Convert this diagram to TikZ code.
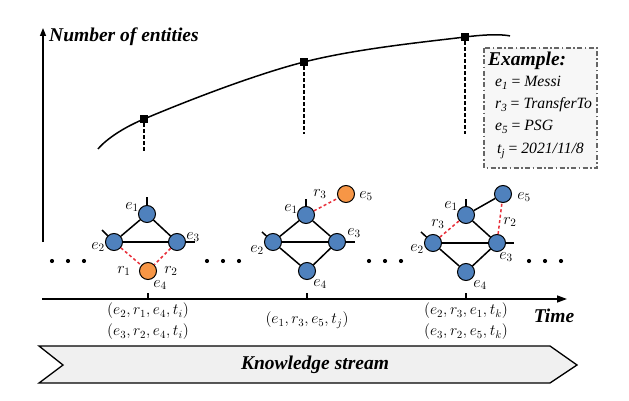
\documentclass[tikz,border=0pt]{standalone}
\usepackage{graphicx}
\usepackage{fontspec}
\setmainfont{Liberation Serif}
\usetikzlibrary{arrows.meta}
\definecolor{entblue}{HTML}{4F81BD}
\definecolor{entorange}{HTML}{F79646}
\definecolor{reddash}{HTML}{E8303A}
\newcommand{\sbs}[1]{\raisebox{-0.35ex}{\fontsize{11}{11}\selectfont #1}}
\newcommand{\lb}[1]{\scalebox{1.12}{$#1$}}
\newcommand{\tp}[1]{\scalebox{1.09}{$#1$}}
\begin{document}
\begin{tikzpicture}[x=1pt,y=-1pt,
  ent/.style={circle,draw=black,line width=1pt,fill=entblue,minimum size=17pt,inner sep=0pt},
  newent/.style={ent,fill=entorange},
  edge/.style={line width=1.5pt,black},
  newedge/.style={line width=1.5pt,reddash,dash pattern=on 3pt off 2.5pt},
  lab/.style={font=\fontsize{14.4}{14.4}\selectfont,inner sep=0pt},
  tup/.style={font=\fontsize{14.4}{14.4}\selectfont,inner sep=0pt},
  big/.style={font=\fontsize{19.5}{19.5}\selectfont\bfseries\itshape,inner sep=0pt},
  mk/.style={rectangle,fill=black,minimum size=8.5pt,inner sep=0pt},
  vdash/.style={line width=1.4pt,dash pattern=on 3.5pt off 2.5pt},
  exl/.style={font=\fontsize{15.7}{15.7}\selectfont\itshape,inner sep=0pt,anchor=west}
]
\useasboundingbox (0,0) rectangle (629,401);

% axes
\coordinate (yb) at (43,242);
\coordinate (yt) at (43,28);
\coordinate (xl) at (42,299);
\coordinate (xr) at (567,299);
\draw[line width=1.4pt,-{Triangle[length=8pt,width=6pt]}] (yb) -- (yt);
\draw[line width=1.4pt,-{Triangle[length=10pt,width=7pt]}] (xl) -- (xr);
\node[big,anchor=west] (ylab) at (49,37) {Number of entities};
\node[big] (xlab) at (554,316) {Time};

% ticks
\foreach \x/\n in {148/t1,307/t2,466/t3}{
  \coordinate (\n a) at (\x,299);
  \coordinate (\n b) at (\x,293);
  \draw[line width=1.4pt] (\n a) -- (\n b);
}

% growth curve
\draw[line width=1.5pt] plot[smooth,tension=0.6] coordinates {(98,149) (144,119) (304,62) (465,37) (510,36)};
\node[mk] (m1) at (144,119) {};
\node[mk] (m2) at (304,62) {};
\node[mk] (m3) at (465,37) {};
\coordinate (d1) at (144,153);
\coordinate (d2) at (304,134);
\coordinate (d3) at (465,134);
\draw[vdash] (m1) -- (d1);
\draw[vdash] (m2) -- (d2);
\draw[vdash] (m3) -- (d3);

% example box
\draw[gray!80!black,line width=1.2pt,fill=gray!6,dash pattern=on 5pt off 2.5pt on 1.5pt off 2.5pt] (484,48) rectangle (597,168);
\node[big,anchor=west] (ex) at (488,61) {Example:};
\node[exl] (ex1) at (495,83) {e\sbs{1} {\upshape =} Messi};
\node[exl] (ex2) at (495,105) {r\sbs{3} {\upshape =} TransferTo};
\node[exl] (ex3) at (495,127) {e\sbs{5} {\upshape =} PSG};
\node[exl] (ex4) at (497,151) {t\sbs{j} {\upshape =} 2021/11/8};

% dots
\foreach \x [count=\i] in {52,68,84,207,223,239,369,385,401,529,545,561}{
  \fill (\x,261) circle (2.1pt);
}

% graph 1
\node[ent] (a1) at (147,214) {};
\node[ent] (a2) at (114,242) {};
\node[ent] (a3) at (177,242) {};
\node[newent] (a4) at (148,271) {};
\coordinate (a1s) at (147,197);
\coordinate (a2s) at (102,230);
\coordinate (a3s) at (195,242);
\draw[edge] (a1) -- (a2);
\draw[edge] (a1) -- (a3);
\draw[edge] (a2) -- (a3);
\draw[edge] (a1) -- (a1s);
\draw[edge] (a2) -- (a2s);
\draw[edge] (a3) -- (a3s);
\draw[newedge] (a2) -- (a4);
\draw[newedge] (a3) -- (a4);
\node[lab] at (132,207) {\lb{e_1}};
\node[lab] at (98,247) {\lb{e_2}};
\node[lab] at (193,237) {\lb{e_3}};
\node[lab] at (160,285) {\lb{e_4}};
\node[lab] at (124,271) {\lb{r_1}};
\node[lab] at (171,271) {\lb{r_2}};

% graph 2
\node[ent] (b1) at (306,215) {};
\node[ent] (b2) at (273,242) {};
\node[ent] (b3) at (337,242) {};
\node[ent] (b4) at (307,271) {};
\node[newent] (b5) at (346,194) {};
\coordinate (b1s) at (306,199);
\coordinate (b2s) at (262,232);
\coordinate (b3s) at (355,242);
\draw[edge] (b1) -- (b2);
\draw[edge] (b1) -- (b3);
\draw[edge] (b2) -- (b3);
\draw[edge] (b2) -- (b4);
\draw[edge] (b3) -- (b4);
\draw[edge] (b1) -- (b1s);
\draw[edge] (b2) -- (b2s);
\draw[edge] (b3) -- (b3s);
\draw[newedge] (b1) -- (b5);
\node[lab] at (291,209) {\lb{e_1}};
\node[lab] at (257,250) {\lb{e_2}};
\node[lab] at (354,233) {\lb{e_3}};
\node[lab] at (320,284) {\lb{e_4}};
\node[lab] at (320,194) {\lb{r_3}};
\node[lab] at (366,196) {\lb{e_5}};

% graph 3
\node[ent] (c1) at (466,215) {};
\node[ent] (c2) at (433,243) {};
\node[ent] (c3) at (497,243) {};
\node[ent] (c4) at (466,272) {};
\node[ent] (c5) at (503,194) {};
\coordinate (c1s) at (466,199);
\coordinate (c2s) at (421,232);
\coordinate (c3s) at (514,243);
\draw[edge] (c1) -- (c3);
\draw[edge] (c1) -- (c5);
\draw[edge] (c2) -- (c3);
\draw[edge] (c2) -- (c4);
\draw[edge] (c3) -- (c4);
\draw[edge] (c1) -- (c1s);
\draw[edge] (c2) -- (c2s);
\draw[edge] (c3) -- (c3s);
\draw[newedge] (c2) -- (c1);
\draw[newedge] (c3) -- (c5);
\node[lab] at (451,206) {\lb{e_1}};
\node[lab] at (417,249) {\lb{e_2}};
\node[lab] at (506,257) {\lb{e_3}};
\node[lab] at (480,285) {\lb{e_4}};
\node[lab] at (524,197) {\lb{e_5}};
\node[lab] at (438,224) {\lb{r_3}};
\node[lab] at (510,222) {\lb{r_2}};

% tuples
\node[tup] (q1) at (148,311) {\tp{(e_2,r_1,e_4,t_i)}};
\node[tup] (q2) at (148,332) {\tp{(e_3,r_2,e_4,t_i)}};
\node[tup] (q3) at (307,320) {\tp{(e_1,r_3,e_5,t_j)}};
\node[tup] (q4) at (466,311) {\tp{(e_2,r_3,e_1,t_k)}};
\node[tup] (q5) at (466,332) {\tp{(e_3,r_2,e_5,t_k)}};

% knowledge stream
\draw[line width=1.3pt,fill=gray!12] (39,346) -- (550,346) -- (577,365) -- (550,383) -- (39,383) -- (63,365) -- cycle;
\node[big] (ks) at (315,365) {Knowledge stream};
\end{tikzpicture}
\end{document}
